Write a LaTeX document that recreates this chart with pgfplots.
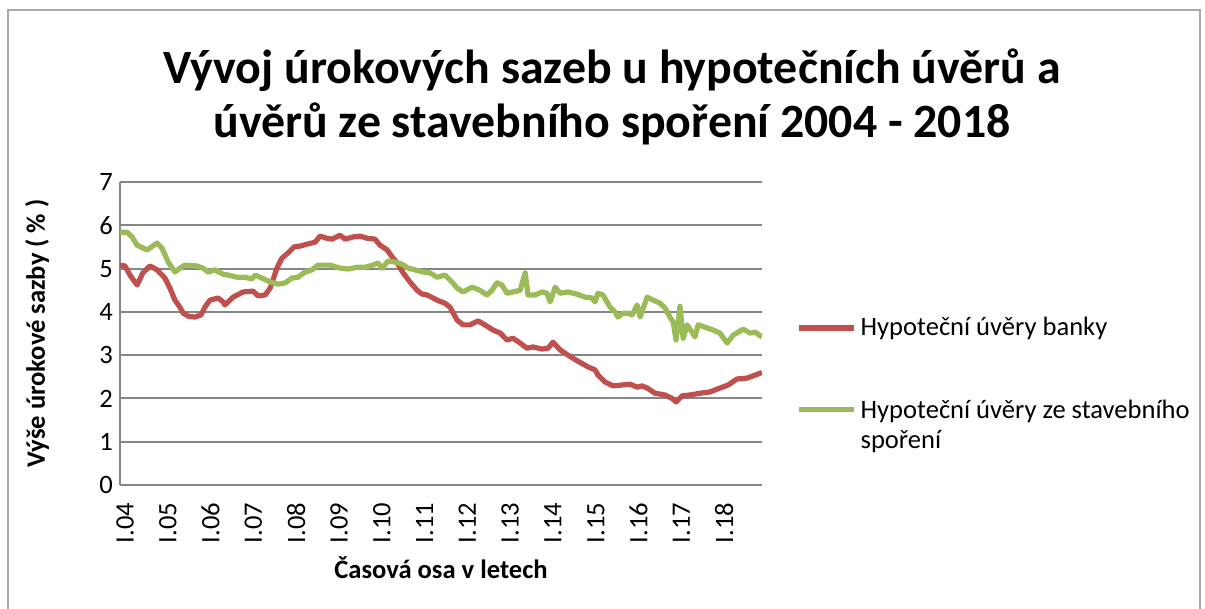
\documentclass[border=0pt]{standalone}
\usepackage{pgfplots}
\pgfplotsset{compat=1.18}
\usepackage{fontspec}
\setmainfont{Carlito}
\definecolor{bankred}{HTML}{C0504D}
\definecolor{ssgreen}{HTML}{9BBB59}
\definecolor{gridgray}{HTML}{868686}
\begin{document}
\begin{tikzpicture}[x=1bp,y=1bp]
\useasboundingbox (-60,-61.5) rectangle (542.5,242.5);
\draw[gridgray!70, line width=0.8bp] (-56,237.5) rectangle (540,-80);
\node[align=center, font=\fontsize{24}{27.5}\selectfont\bfseries] at (246,194)
  {Vývoj úrokových sazeb u hypotečních úvěrů a\\úvěrů ze stavebního spoření 2004 - 2018};
\begin{axis}[
  at={(0,0)}, anchor=south west,
  scale only axis, width=321bp, height=151.5bp,
  xmin=0, xmax=180, ymin=0, ymax=7,
  axis x line*=bottom, axis y line*=left,
  axis line style={gridgray, line width=1bp},
  ymajorgrids, grid style={gridgray, line width=1bp},
  tick style={draw=none},
  ytick={0,1,...,7},
  xtick={0,12,...,168},
  xticklabels={I.04,I.05,I.06,I.07,I.08,I.09,I.10,I.11,I.12,I.13,I.14,I.15,I.16,I.17,I.18},
  xticklabel style={rotate=90, anchor=east, yshift=-2.5bp},
  xticklabel shift=5.5bp,
  yticklabel style={anchor=east},
  ticklabel style={font=\fontsize{13.33}{16}\selectfont},
  /pgf/number format/assume math mode=true,
  xlabel={Časová osa v letech},
  ylabel={Výše úrokové sazby ( \% )},
  label style={font=\fontsize{13.33}{16}\selectfont\bfseries},
  xlabel style={at={(axis description cs:0.5,-0.274)}, anchor=center},
  ylabel style={at={(axis description cs:-0.129,0.5)}, anchor=center},
  legend style={at={(axis description cs:1.053,0.568)}, anchor=north west,
    draw=none, fill=none, inner sep=0pt, row sep=25.5bp,
    font=\fontsize{13.33}{15}\selectfont,
    /tikz/every even column/.append style={column sep=0pt}},
  legend cell align=left,
  legend image code/.code={\draw[#1] (0bp,0bp) -- (27.5bp,0bp);},
  line join=round,
]
\addplot[bankred, line width=2.6bp] coordinates {
(0,5.08) (1.4,5.06) (2.8,4.85) (4.8,4.62) (6.4,4.90) (8.4,5.06) (10.4,4.97)
(12.6,4.78) (14.0,4.55) (15.4,4.27) (16.8,4.11) (17.7,3.97) (19.1,3.90)
(21.0,3.88) (22.7,3.93) (23.8,4.11) (25.2,4.27) (27.5,4.32) (28.9,4.23)
(29.4,4.16) (31.7,4.34) (34.5,4.46) (37.3,4.48) (38.7,4.37) (40.7,4.39)
(42.1,4.55) (44.0,5.01) (45.4,5.24) (47.1,5.36) (48.8,5.50) (50.5,5.52)
(52.7,5.57) (54.7,5.61) (56.1,5.75) (58.0,5.70) (59.4,5.68) (61.7,5.77)
(63.1,5.68) (65.3,5.73) (67.3,5.75) (69.3,5.70) (71.5,5.68) (72.9,5.54)
(74.9,5.43) (76.3,5.27) (77.7,5.13) (79.4,4.90) (81.3,4.69) (83.3,4.50)
(84.7,4.41) (86.1,4.39) (87.8,4.32) (88.9,4.27) (91.1,4.20) (92.5,4.11)
(94.5,3.81) (96.2,3.70) (98.1,3.70) (100.4,3.79) (102.3,3.70) (104.6,3.58)
(106.6,3.51) (108.5,3.35) (110.2,3.39) (112.2,3.28) (114.1,3.16) (115.8,3.19)
(118.3,3.14) (120.0,3.16) (121.4,3.30) (123.4,3.12) (125.6,3.00) (128.4,2.86)
(131.2,2.73) (133.2,2.66) (134.0,2.54) (136.0,2.38) (138.2,2.29) (140.8,2.31)
(143.0,2.33) (145.0,2.26) (146.4,2.29) (147.8,2.24) (150.0,2.12) (152.8,2.08)
(154.8,2.00) (155.9,1.92) (157.6,2.06) (159.8,2.08) (162.6,2.12) (165.4,2.15)
(168.2,2.24) (170.5,2.31) (173.0,2.45) (175.8,2.47) (178.1,2.54) (180.0,2.60)
};
\addlegendentry{Hypoteční úvěry banky}
\addplot[ssgreen, line width=2.6bp] coordinates {
(0,5.84) (2.0,5.84) (3.4,5.73) (4.8,5.54) (7.6,5.43) (10.4,5.59) (11.8,5.47)
(13.5,5.15) (15.4,4.92) (16.8,5.01) (18.2,5.08) (21.6,5.06) (23.3,5.01)
(24.7,4.92) (26.6,4.97) (28.9,4.87) (30.3,4.85) (32.8,4.80) (35.1,4.80)
(37.0,4.76) (37.9,4.85) (39.8,4.78) (42.1,4.69) (44.3,4.64) (46.3,4.67)
(48.2,4.78) (49.9,4.80) (51.9,4.92) (53.8,4.97) (55.5,5.08) (58.9,5.08)
(61.7,5.01) (63.9,4.99) (66.5,5.03) (68.7,5.03) (70.9,5.08) (72.3,5.13)
(73.5,5.01) (75.1,5.17) (77.1,5.15) (79.1,5.10) (80.8,5.01) (82.7,4.97)
(85.0,4.92) (86.9,4.90) (88.9,4.80) (91.1,4.85) (93.1,4.69) (94.5,4.55)
(96.2,4.46) (98.7,4.57) (100.9,4.50) (102.9,4.39) (104.3,4.50) (105.7,4.67)
(107.1,4.62) (108.5,4.43) (110.2,4.46) (112.2,4.50) (113.6,4.90) (114.4,4.39)
(116.4,4.39) (118.3,4.46) (119.7,4.43) (120.6,4.23) (122.0,4.57) (123.4,4.43)
(125.6,4.46) (128.1,4.41) (130.4,4.34) (132.3,4.32) (133.2,4.23) (134.0,4.43)
(135.4,4.39) (137.4,4.11) (138.8,4.00) (139.6,3.88) (141.0,3.97) (142.4,3.97)
(143.6,3.93) (145.0,4.16) (145.8,3.88) (147.8,4.34) (149.5,4.27) (151.4,4.20)
(152.8,4.09) (154.2,3.88) (155.1,3.76) (155.9,3.35) (156.5,3.74) (157.0,4.13)
(157.9,3.39) (159.0,3.70) (160.4,3.53) (161.2,3.42) (162.1,3.70) (164.6,3.63)
(166.3,3.58) (168.2,3.51) (170.2,3.28) (171.9,3.46) (174.7,3.60) (176.7,3.51)
(178.1,3.53) (180.0,3.42)
};
\addlegendentry{\begin{tabular}[t]{@{}l@{}}Hypoteční úvěry ze stavebního\\spoření\end{tabular}}
\end{axis}
\end{tikzpicture}
\end{document}
